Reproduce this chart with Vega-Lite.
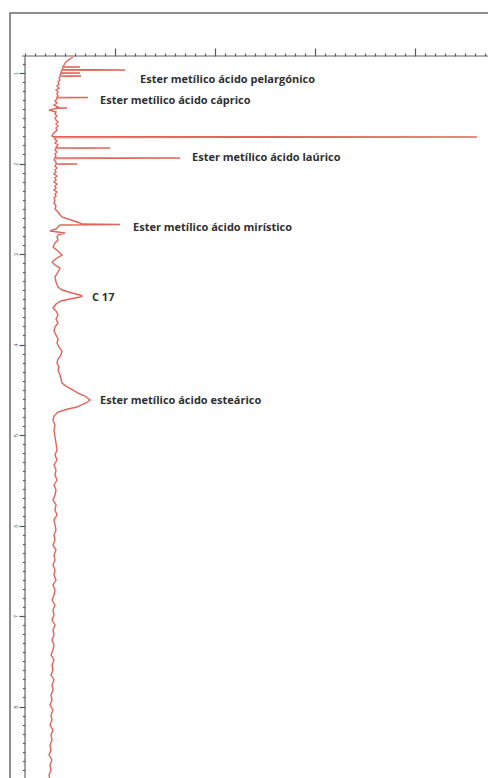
{
  "$schema": "https://vega.github.io/schema/vega-lite/v6.json",
  "width": 480,
  "height": 770,
  "padding": {"left": 10, "top": 13, "right": 0, "bottom": 0},
  "autosize": {"type": "none"},
  "background": "white",
  "config": {"view": {"stroke": "#6b6b6b", "strokeWidth": 1.5}},
  "datasets": {
    "trace": [
      {"t":0.823,"s":0.58},{"t":0.845,"s":0.55},{"t":0.867,"s":0.52},{"t":0.890,"s":0.50},{"t":0.912,"s":0.49},
      {"t":0.929,"s":0.48},{"t":0.934,"s":0.65},{"t":0.938,"s":0.48},
      {"t":0.962,"s":0.47},{"t":0.967,"s":1.10},{"t":0.971,"s":0.47},
      {"t":0.989,"s":0.46},{"t":0.996,"s":0.46},{"t":1.000,"s":0.65},{"t":1.004,"s":0.46},
      {"t":1.022,"s":0.45},{"t":1.029,"s":0.45},{"t":1.033,"s":0.66},{"t":1.038,"s":0.45},
      {"t":1.055,"s":0.44},{"t":1.077,"s":0.45},{"t":1.099,"s":0.43},{"t":1.122,"s":0.44},{"t":1.144,"s":0.42},
      {"t":1.166,"s":0.44},{"t":1.188,"s":0.41},{"t":1.210,"s":0.43},{"t":1.232,"s":0.42},{"t":1.254,"s":0.43},
      {"t":1.266,"s":0.42},{"t":1.271,"s":0.73},{"t":1.275,"s":0.42},
      {"t":1.287,"s":0.42},{"t":1.309,"s":0.40},{"t":1.331,"s":0.42},{"t":1.354,"s":0.39},{"t":1.376,"s":0.43},
      {"t":1.382,"s":0.42},{"t":1.387,"s":0.52},{"t":1.391,"s":0.42},
      {"t":1.409,"s":0.34},{"t":1.431,"s":0.41},{"t":1.453,"s":0.40},{"t":1.475,"s":0.42},{"t":1.497,"s":0.40},
      {"t":1.519,"s":0.41},{"t":1.541,"s":0.43},{"t":1.564,"s":0.41},{"t":1.586,"s":0.43},{"t":1.608,"s":0.41},
      {"t":1.630,"s":0.42},{"t":1.652,"s":0.40},{"t":1.674,"s":0.38},{"t":1.696,"s":0.37},
      {"t":1.703,"s":0.38},{"t":1.707,"s":4.62},{"t":1.712,"s":0.39},
      {"t":1.729,"s":0.40},{"t":1.751,"s":0.42},{"t":1.773,"s":0.40},{"t":1.796,"s":0.43},
      {"t":1.824,"s":0.41},{"t":1.829,"s":0.95},{"t":1.833,"s":0.41},
      {"t":1.851,"s":0.40},{"t":1.873,"s":0.42},{"t":1.895,"s":0.40},{"t":1.917,"s":0.41},
      {"t":1.935,"s":0.40},{"t":1.939,"s":1.65},{"t":1.944,"s":0.40},
      {"t":1.961,"s":0.39},{"t":1.983,"s":0.41},
      {"t":2.001,"s":0.41},{"t":2.006,"s":0.62},{"t":2.010,"s":0.41},
      {"t":2.028,"s":0.40},{"t":2.050,"s":0.42},{"t":2.072,"s":0.40},{"t":2.094,"s":0.41},{"t":2.116,"s":0.39},
      {"t":2.138,"s":0.42},{"t":2.160,"s":0.40},{"t":2.182,"s":0.41},{"t":2.204,"s":0.39},{"t":2.227,"s":0.42},
      {"t":2.249,"s":0.40},{"t":2.271,"s":0.41},{"t":2.293,"s":0.39},{"t":2.315,"s":0.42},{"t":2.337,"s":0.40},
      {"t":2.359,"s":0.41},{"t":2.381,"s":0.39},{"t":2.403,"s":0.40},{"t":2.436,"s":0.39},{"t":2.470,"s":0.41},
      {"t":2.503,"s":0.40},{"t":2.536,"s":0.43},{"t":2.569,"s":0.45},{"t":2.591,"s":0.47},{"t":2.613,"s":0.53},
      {"t":2.635,"s":0.59},{"t":2.657,"s":0.65},{"t":2.669,"s":0.67},{"t":2.674,"s":1.05},{"t":2.680,"s":0.45},
      {"t":2.702,"s":0.43},{"t":2.724,"s":0.41},{"t":2.746,"s":0.35},{"t":2.768,"s":0.50},{"t":2.790,"s":0.43},
      {"t":2.812,"s":0.42},{"t":2.845,"s":0.43},{"t":2.878,"s":0.40},{"t":2.923,"s":0.38},{"t":2.967,"s":0.43},
      {"t":3.011,"s":0.47},{"t":3.044,"s":0.42},{"t":3.088,"s":0.37},{"t":3.122,"s":0.40},{"t":3.155,"s":0.45},
      {"t":3.199,"s":0.43},{"t":3.254,"s":0.40},{"t":3.309,"s":0.41},{"t":3.365,"s":0.43},{"t":3.398,"s":0.47},
      {"t":3.431,"s":0.57},{"t":3.453,"s":0.65},{"t":3.464,"s":0.67},{"t":3.475,"s":0.65},{"t":3.497,"s":0.55},
      {"t":3.519,"s":0.46},{"t":3.552,"s":0.41},{"t":3.597,"s":0.38},{"t":3.630,"s":0.41},{"t":3.674,"s":0.43},
      {"t":3.718,"s":0.41},{"t":3.762,"s":0.43},{"t":3.807,"s":0.40},{"t":3.851,"s":0.39},{"t":3.895,"s":0.41},
      {"t":3.939,"s":0.43},{"t":3.983,"s":0.42},{"t":4.028,"s":0.44},{"t":4.072,"s":0.47},{"t":4.116,"s":0.46},
      {"t":4.160,"s":0.43},{"t":4.204,"s":0.42},{"t":4.249,"s":0.44},{"t":4.282,"s":0.43},{"t":4.337,"s":0.45},
      {"t":4.381,"s":0.46},{"t":4.425,"s":0.47},{"t":4.459,"s":0.51},{"t":4.503,"s":0.58},{"t":4.536,"s":0.63},
      {"t":4.569,"s":0.70},{"t":4.613,"s":0.75},{"t":4.646,"s":0.71},{"t":4.669,"s":0.66},{"t":4.691,"s":0.62},
      {"t":4.713,"s":0.53},{"t":4.746,"s":0.43},{"t":4.790,"s":0.39},{"t":4.834,"s":0.38},{"t":4.890,"s":0.40},
      {"t":4.945,"s":0.39},{"t":5.022,"s":0.40},{"t":5.088,"s":0.41},{"t":5.166,"s":0.42},{"t":5.221,"s":0.40},
      {"t":5.276,"s":0.42},{"t":5.331,"s":0.39},{"t":5.387,"s":0.41},{"t":5.442,"s":0.40},{"t":5.497,"s":0.42},
      {"t":5.552,"s":0.39},{"t":5.608,"s":0.41},{"t":5.663,"s":0.40},{"t":5.718,"s":0.38},{"t":5.773,"s":0.41},
      {"t":5.829,"s":0.40},{"t":5.884,"s":0.42},{"t":5.939,"s":0.39},{"t":5.994,"s":0.40},{"t":6.050,"s":0.41},
      {"t":6.105,"s":0.39},{"t":6.160,"s":0.40},{"t":6.215,"s":0.38},{"t":6.271,"s":0.41},{"t":6.326,"s":0.39},
      {"t":6.381,"s":0.40},{"t":6.436,"s":0.38},{"t":6.492,"s":0.40},{"t":6.547,"s":0.39},{"t":6.602,"s":0.41},
      {"t":6.657,"s":0.38},{"t":6.713,"s":0.40},{"t":6.768,"s":0.39},{"t":6.823,"s":0.37},{"t":6.878,"s":0.40},
      {"t":6.934,"s":0.38},{"t":6.989,"s":0.39},{"t":7.044,"s":0.37},{"t":7.099,"s":0.40},{"t":7.155,"s":0.38},
      {"t":7.210,"s":0.39},{"t":7.265,"s":0.37},{"t":7.320,"s":0.39},{"t":7.376,"s":0.38},{"t":7.431,"s":0.36},
      {"t":7.486,"s":0.39},{"t":7.541,"s":0.37},{"t":7.597,"s":0.38},{"t":7.652,"s":0.36},{"t":7.707,"s":0.39},
      {"t":7.762,"s":0.37},{"t":7.818,"s":0.38},{"t":7.873,"s":0.36},{"t":7.928,"s":0.37},{"t":7.983,"s":0.35},
      {"t":8.039,"s":0.38},{"t":8.094,"s":0.36},{"t":8.149,"s":0.37},{"t":8.204,"s":0.35},{"t":8.260,"s":0.38},
      {"t":8.315,"s":0.36},{"t":8.370,"s":0.37},{"t":8.425,"s":0.35},{"t":8.481,"s":0.36},{"t":8.536,"s":0.34},
      {"t":8.591,"s":0.37},{"t":8.646,"s":0.35},{"t":8.702,"s":0.36},{"t":8.757,"s":0.34},{"t":8.812,"s":0.35}
    ],
    "labels": [
      {"t":1.077,"s":1.25,"label":"Ester metílico ácido pelargónico"},
      {"t":1.309,"s":0.85,"label":"Ester metílico ácido cáprico"},
      {"t":1.939,"s":1.77,"label":"Ester metílico ácido laúrico"},
      {"t":2.713,"s":1.18,"label":"Ester metílico ácido mirístico"},
      {"t":3.486,"s":0.77,"label":"C 17"},
      {"t":4.624,"s":0.85,"label":"Ester metílico ácido esteárico"}
    ]
  },
  "layer": [
    {
      "data": {"values": [{}]},
      "mark": {"type": "rule", "color": "#666", "strokeWidth": 1.2},
      "encoding": {
        "x": {"datum": 0.1, "type": "quantitative"},
        "y": {"datum": 0.812, "type": "quantitative"},
        "y2": {"datum": 8.845}
      }
    },
    {
      "data": {"values": [{}]},
      "mark": {"type": "rule", "color": "#666", "strokeWidth": 1.2},
      "encoding": {
        "y": {"datum": 0.812, "type": "quantitative"},
        "x": {"datum": 0.07, "type": "quantitative"},
        "x2": {"datum": 4.75}
      }
    },
    {
      "data": {"name": "trace"},
      "mark": {"type": "line", "color": "#e2645a", "strokeWidth": 1.4, "clip": true},
      "encoding": {
        "x": {
          "field": "s", "type": "quantitative",
          "scale": {"domain": [-0.05, 4.75], "nice": false, "zero": false},
          "axis": {
            "orient": "top", "offset": -43, "title": null, "grid": false, "labels": false, "tickCount": 1000, "domain": false,
            "values": [0.1,0.2,0.3,0.4,0.5,0.6,0.7,0.8,0.9,1,1.1,1.2,1.3,1.4,1.5,1.6,1.7,1.8,1.9,2,2.1,2.2,2.3,2.4,2.5,2.6,2.7,2.8,2.9,3,3.1,3.2,3.3,3.4,3.5,3.6,3.7,3.8,3.9,4,4.1,4.2,4.3,4.4,4.5,4.6,4.7],
            "tickColor": "#555", "tickWidth": 1.2,
            "tickSize": {"condition": {"test": "abs(datum.value - round(datum.value)) < 0.001", "value": 8}, "value": 3}
          }
        },
        "y": {
          "field": "t", "type": "quantitative",
          "scale": {"domain": [0.337, 8.845], "reverse": true, "nice": false, "zero": false},
          "axis": {
            "orient": "left", "offset": -15, "title": null, "grid": false, "tickCount": 1000, "domain": false,
            "values": [0.9,1,1.1,1.2,1.3,1.4,1.5,1.6,1.7,1.8,1.9,2,2.1,2.2,2.3,2.4,2.5,2.6,2.7,2.8,2.9,3,3.1,3.2,3.3,3.4,3.5,3.6,3.7,3.8,3.9,4,4.1,4.2,4.3,4.4,4.5,4.6,4.7,4.8,4.9,5,5.1,5.2,5.3,5.4,5.5,5.6,5.7,5.8,5.9,6,6.1,6.2,6.3,6.4,6.5,6.6,6.7,6.8,6.9,7,7.1,7.2,7.3,7.4,7.5,7.6,7.7,7.8,7.9,8,8.1,8.2,8.3,8.4,8.5,8.6,8.7,8.8],
            "labelExpr": "abs(datum.value - round(datum.value)) < 0.001 ? format(datum.value, 'd') : ''",
            "labelOverlap": false, "labelFontSize": 6, "labelAngle": -90, "labelColor": "#666", "labelPadding": 1,
            "tickColor": "#555", "tickWidth": 1.2,
            "tickSize": {"condition": {"test": "abs(datum.value - round(datum.value)) < 0.001", "value": 6}, "value": 2.5}
          }
        },
        "order": {"field": "t", "type": "quantitative"}
      }
    },
    {
      "data": {"name": "labels"},
      "mark": {"type": "text", "align": "left", "baseline": "middle", "font": "Open Sans", "fontWeight": "bold", "fontSize": 11, "color": "#303030"},
      "encoding": {
        "x": {"field": "s", "type": "quantitative"},
        "y": {"field": "t", "type": "quantitative"},
        "text": {"field": "label"}
      }
    }
  ]
}
